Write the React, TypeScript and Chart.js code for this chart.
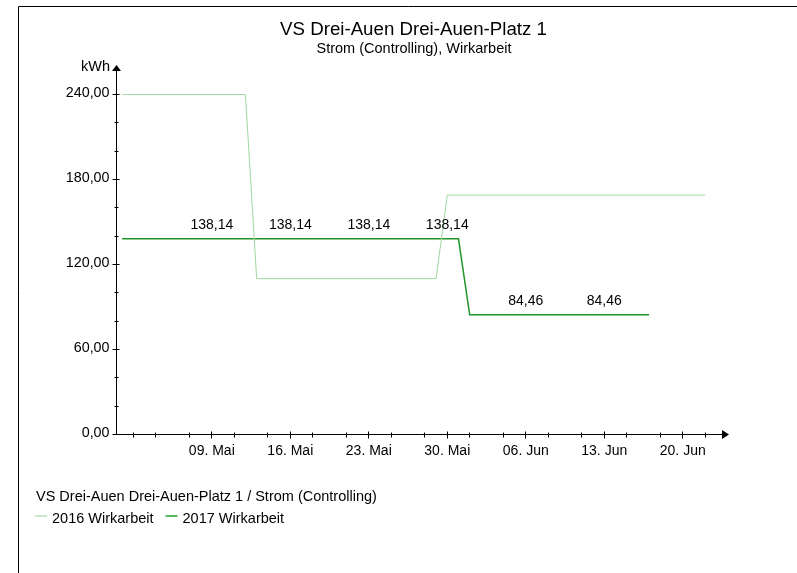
import React, { useEffect, useRef } from 'react';
import { Chart, registerables } from 'chart.js';

Chart.register(...registerables);

const FONT = "'Liberation Sans', Arial, Helvetica, sans-serif";

const chartTitle = 'VS Drei-Auen Drei-Auen-Platz 1';
const chartSubtitle = 'Strom (Controlling), Wirkarbeit';
const legendTitle = 'VS Drei-Auen Drei-Auen-Platz 1 / Strom (Controlling)';
const yUnit = 'kWh';
const seriesNames = ['2016 Wirkarbeit', '2017 Wirkarbeit'];
const seriesColors = ['#a0d8a0', '#20962a'];
const legendColors = ['#cce8cc', '#5cb85c'];

// dates as MM-DD
const dates2016 = ['05-01', '05-12', '05-13', '05-29', '05-30', '06-22'];
const values2016 = [240, 240, 110, 110, 169, 169];

const dates2017 = ['05-01', '05-09', '05-16', '05-23', '05-30', '05-31', '06-01', '06-06', '06-13', '06-17'];
const values2017 = [138.14, 138.14, 138.14, 138.14, 138.14, 138.14, 84.46, 84.46, 84.46, 84.46];
const labelDates2017 = ['05-09', '05-16', '05-23', '05-30', '06-06', '06-13'];

const xTickDates = ['05-09', '05-16', '05-23', '05-30', '06-06', '06-13', '06-20'];
const xTickLabels = ['09. Mai', '16. Mai', '23. Mai', '30. Mai', '06. Jun', '13. Jun', '20. Jun'];
const xMinorDates = ['05-02', '05-04', '05-07', '05-11', '05-14', '05-18', '05-21', '05-25', '05-28', '06-01', '06-04', '06-08', '06-11', '06-15', '06-18', '06-22'];

const yTicks = [0, 60, 120, 180, 240];
const yMinorTicks = [20, 40, 80, 100, 140, 160, 200, 220];

const X_MIN = -0.5;
const X_MAX = 53.5;

function dayIndex(md: string): number {
  const [m, d] = md.split('-').map(Number);
  return m === 5 ? d - 1 : 31 + d - 1;
}

function fmt(v: number): string {
  return v.toFixed(2).replace('.', ',');
}

const decorPlugin = {
  id: 'decor',
  beforeDraw(chart: any) {
    const ctx = chart.ctx;
    ctx.save();
    ctx.fillStyle = '#ffffff';
    ctx.fillRect(0, 0, chart.width, chart.height);
    ctx.strokeStyle = '#000000';
    ctx.lineWidth = 1;
    ctx.beginPath();
    ctx.moveTo(18.5, chart.height + 5);
    ctx.lineTo(18.5, 6.5);
    ctx.lineTo(chart.width + 5, 6.5);
    ctx.stroke();
    ctx.restore();
  },
  afterDraw(chart: any) {
    const ctx = chart.ctx;
    const xs = chart.scales.x;
    const ys = chart.scales.y;
    const area = chart.chartArea;
    const ax = Math.floor(area.left) + 0.5;
    const ay = Math.floor(area.bottom) + 0.5;
    ctx.save();
    ctx.strokeStyle = '#000';
    ctx.fillStyle = '#000';
    ctx.lineWidth = 1;
    // axes lines
    ctx.beginPath();
    ctx.moveTo(ax, ay);
    ctx.lineTo(ax, 70);
    ctx.moveTo(ax, ay);
    ctx.lineTo(723, ay);
    ctx.stroke();
    // arrows
    ctx.beginPath();
    ctx.moveTo(ax, 65);
    ctx.lineTo(ax - 4.5, 71);
    ctx.lineTo(ax + 4.5, 71);
    ctx.closePath();
    ctx.fill();
    ctx.beginPath();
    ctx.moveTo(729, ay);
    ctx.lineTo(722, ay - 4.5);
    ctx.lineTo(722, ay + 4.5);
    ctx.closePath();
    ctx.fill();
    // y ticks
    ctx.beginPath();
    yTicks.forEach((v) => {
      const py = Math.floor(ys.getPixelForValue(v)) + 0.5;
      ctx.moveTo(ax - 4, py);
      ctx.lineTo(ax + 3, py);
    });
    yMinorTicks.forEach((v) => {
      const py = Math.floor(ys.getPixelForValue(v)) + 0.5;
      ctx.moveTo(ax - 2, py);
      ctx.lineTo(ax + 2, py);
    });
    // x ticks
    xTickDates.forEach((d) => {
      const px = Math.floor(xs.getPixelForValue(dayIndex(d))) + 0.5;
      ctx.moveTo(px, ay - 3);
      ctx.lineTo(px, ay + 4);
    });
    xMinorDates.forEach((d) => {
      const px = Math.floor(xs.getPixelForValue(dayIndex(d))) + 0.5;
      ctx.moveTo(px, ay - 2);
      ctx.lineTo(px, ay + 3);
    });
    ctx.stroke();

    // unit label
    ctx.font = `14.5px ${FONT}`;
    ctx.textAlign = 'right';
    ctx.textBaseline = 'alphabetic';
    ctx.fillText(yUnit, 110, 71);

    // titles
    ctx.textAlign = 'center';
    ctx.font = `18.7px ${FONT}`;
    ctx.fillText(chartTitle, 413.5, 35);
    ctx.font = `14.5px ${FONT}`;
    ctx.fillText(chartSubtitle, 414, 53);

    // data labels for 2017
    const meta = chart.getDatasetMeta(1);
    ctx.font = `14px ${FONT}`;
    ctx.textAlign = 'center';
    labelDates2017.forEach((d) => {
      const i = dates2017.indexOf(d);
      const el = meta.data[i];
      if (el) ctx.fillText(fmt(values2017[i]), el.x, el.y - 10);
    });

    // legend
    ctx.textAlign = 'left';
    ctx.font = `14.5px ${FONT}`;
    ctx.fillText(legendTitle, 36, 500.5);
    let lx = 35;
    seriesNames.forEach((name, i) => {
      ctx.strokeStyle = legendColors[i];
      ctx.lineWidth = 2;
      ctx.beginPath();
      ctx.moveTo(lx, 516);
      ctx.lineTo(lx + 12, 516);
      ctx.stroke();
      ctx.fillStyle = '#000';
      ctx.fillText(name, lx + 17, 522.5);
      lx += 17 + ctx.measureText(name).width + 12;
    });
    ctx.restore();
  },
};

export default function App() {
  const ref = useRef<HTMLCanvasElement | null>(null);
  useEffect(() => {
    if (!ref.current) return;
    Chart.defaults.font.family = FONT;
    Chart.defaults.color = '#000';
    const chart = new Chart(ref.current, {
      type: 'line',
      data: {
        datasets: [
          {
            label: seriesNames[0],
            data: dates2016.map((d, i) => ({ x: dayIndex(d), y: values2016[i] })),
            borderColor: seriesColors[0],
            borderWidth: 1,
            pointRadius: 0,
            tension: 0,
            clip: false as any,
          },
          {
            label: seriesNames[1],
            data: dates2017.map((d, i) => ({ x: dayIndex(d), y: values2017[i] })),
            borderColor: seriesColors[1],
            borderWidth: 1.5,
            pointRadius: 0,
            tension: 0,
            clip: false as any,
          },
        ],
      },
      options: {
        animation: false,
        responsive: false,
        devicePixelRatio: 1,
        layout: { padding: { top: 94.5, left: 0, right: 797 - 722, bottom: 573 - 434.5 - 40 } },
        plugins: {
          legend: { display: false },
          title: { display: false },
          tooltip: { enabled: false },
        },
        scales: {
          x: {
            type: 'linear',
            min: X_MIN,
            max: X_MAX,
            grid: { display: false, drawTicks: false },
            border: { display: false },
            afterBuildTicks: (s: any) => {
              s.ticks = xTickDates.map((d) => ({ value: dayIndex(d) }));
            },
            afterFit: (s: any) => {
              s.height = 40;
            },
            ticks: {
              autoSkip: false,
              maxRotation: 0,
              padding: 8,
              font: { size: 14, family: FONT },
              color: '#000',
              callback: (v: any) => {
                const idx = xTickDates.findIndex((d) => dayIndex(d) === v);
                return idx >= 0 ? xTickLabels[idx] : '';
              },
            },
          },
          y: {
            type: 'linear',
            min: 0,
            max: 240,
            grid: { display: false, drawTicks: false },
            border: { display: false },
            afterBuildTicks: (s: any) => {
              s.ticks = yTicks.map((v) => ({ value: v }));
            },
            afterFit: (s: any) => {
              s.width = 116.5;
            },
            ticks: {
              padding: 7,
              labelOffset: -1,
              font: { size: 14.3, family: FONT },
              color: '#000',
              callback: (v: any) => fmt(Number(v)),
            },
          },
        },
      },
      plugins: [decorPlugin],
    });
    return () => chart.destroy();
  }, []);
  return (
    <div style={{ position: 'absolute', left: 0, top: 0, width: 797, height: 573, background: '#fff' }}>
      <canvas ref={ref} width={797} height={573} style={{ display: 'block' }} />
    </div>
  );
}
